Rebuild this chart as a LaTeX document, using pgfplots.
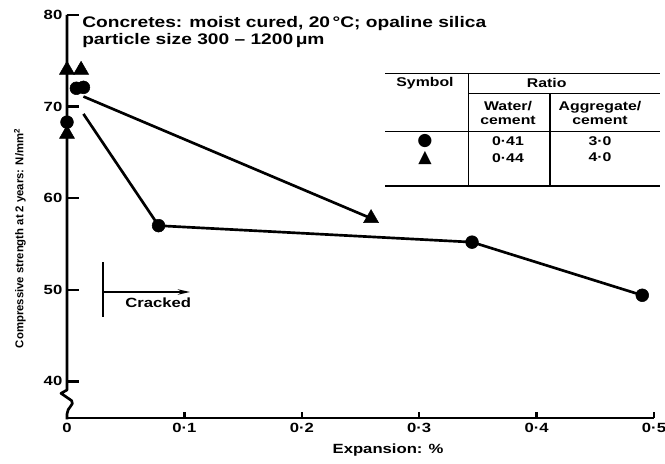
\documentclass[border=0pt]{standalone}
\usepackage{fontspec}
\setmainfont{Liberation Sans}[FakeStretch=1.25]
\newfontfamily\narrowfont{Liberation Sans}
\newfontfamily\symfont{DejaVu Sans}
\usepackage{pgfplots}
\pgfplotsset{compat=1.18}
\usetikzlibrary{arrows.meta}

\begin{document}
\begin{tikzpicture}[font=\bfseries]
\path[use as bounding box] (-50.25pt,-34.5pt) rectangle (448.5pt,313.5pt);
\begin{axis}[
  at={(0,0)}, anchor=south west,
  scale only axis, width=440.25pt, height=302.25pt,
  xmin=0, xmax=0.5, ymin=36, ymax=80,
  axis x line*=bottom, axis y line*=left,
  y axis line style={draw=none},
  x axis line style={line width=2pt},
  xtick={0,0.1,0.2,0.3,0.4,0.5},
  xticklabels={0,0·1,0·2,0·3,0·4,0·5},
  ytick={40,50,60,70,80},
  yticklabels={40,50,60,70,80},
  tick align=inside, major tick length=9pt,
  tick style={line width=1.8pt, black},
  xtick style={/pgfplots/major tick length=4.5pt},
  tick label style={font=\bfseries\fontsize{10}{12}\selectfont},
  xlabel={Expansion: \%},
  xlabel style={at={(axis description cs:0.547,-0.079)}, anchor=center,
                font=\bfseries\fontsize{10}{12}\selectfont},
  ylabel={Compressive strength at 2 years: N/mm\textsuperscript{2}},
  ylabel style={at={(axis description cs:-0.08,0.446)}, anchor=center,
                font=\narrowfont\bfseries\fontsize{8.5}{10}\selectfont},
  clip=false,
]
% connecting lines
\addplot[line width=2pt, no marks] coordinates {(0.014,69.2) (0.078,57.0) (0.345,55.2) (0.49,49.4)};
\addplot[line width=2pt, no marks] coordinates {(0.014,71.1) (0.259,57.8)};
% w/c 0.41, a/c 3.0
\addplot[only marks, mark=*, mark size=4.8pt, black] coordinates {
  (0,68.3) (0.008,72.0) (0.014,72.1) (0.078,57.0) (0.345,55.2) (0.49,49.4)};
% w/c 0.44, a/c 4.0
\addplot[only marks, mark=triangle*, mark size=6.5pt, black] coordinates {
  (0,74.0) (0.012,74.0) (0,67.0) (0.259,57.8)};
\end{axis}

% y axis with break
\draw[line width=2pt, line join=round]
  (0,302.25pt) -- (0,21pt) -- (-4.5pt,18.5pt) -- (3.5pt,13pt)
  .. controls (6pt,10pt) and (0,8pt) .. (0,3pt) -- (0,-1pt);

% heading
\node[anchor=north west, align=left, inner sep=0pt,
      font=\bfseries\fontsize{11.5}{13}\selectfont] at (11.25pt,301.5pt)
  {Concretes: moist cured, 20\,°C; opaline silica\\particle size 300 -- 1200\,μm};

% cracked marker
\draw[line width=1.5pt] (27pt,75.75pt) -- (27pt,117pt);
\draw[line width=1.5pt, -{Stealth[length=9pt,width=4pt]}] (27pt,94.5pt) -- (92.25pt,94.5pt);
\node[anchor=west, inner sep=0pt, font=\bfseries\fontsize{10}{12}\selectfont] at (43.5pt,86.25pt) {Cracked};

% key table
\begin{scope}[line width=1.2pt]
\draw (238.5pt,258.5pt) -- (444.75pt,258.5pt);
\draw (301pt,243.5pt) -- (444.75pt,243.5pt);
\draw (238.5pt,214.75pt) -- (444.75pt,214.75pt);
\draw (238.5pt,174pt) -- (444.75pt,174pt);
\draw (301pt,258.5pt) -- (301pt,174pt);
\draw (362.25pt,243.5pt) -- (362.25pt,174pt);
\end{scope}
\begin{scope}[every node/.style={inner sep=0pt, align=center,
    font=\bfseries\fontsize{9.5}{10}\selectfont}]
\node at (268.5pt,251.25pt) {Symbol};
\node at (359.75pt,251.25pt) {Ratio};
\node at (330.75pt,228.75pt) {Water/\\cement};
\node at (399.75pt,228.75pt) {Aggregate/\\cement};
\node at (268.5pt,207.75pt) {\symfont\fontsize{13}{13}\selectfont ●};
\node at (268.5pt,195pt) {\symfont\fontsize{13}{13}\selectfont ▲};
\node at (330.75pt,207.75pt) {0·41};
\node at (330.75pt,195pt) {0·44};
\node at (399.75pt,207.75pt) {3·0};
\node at (399.75pt,196pt) {4·0};
\end{scope}
\end{tikzpicture}
\end{document}
